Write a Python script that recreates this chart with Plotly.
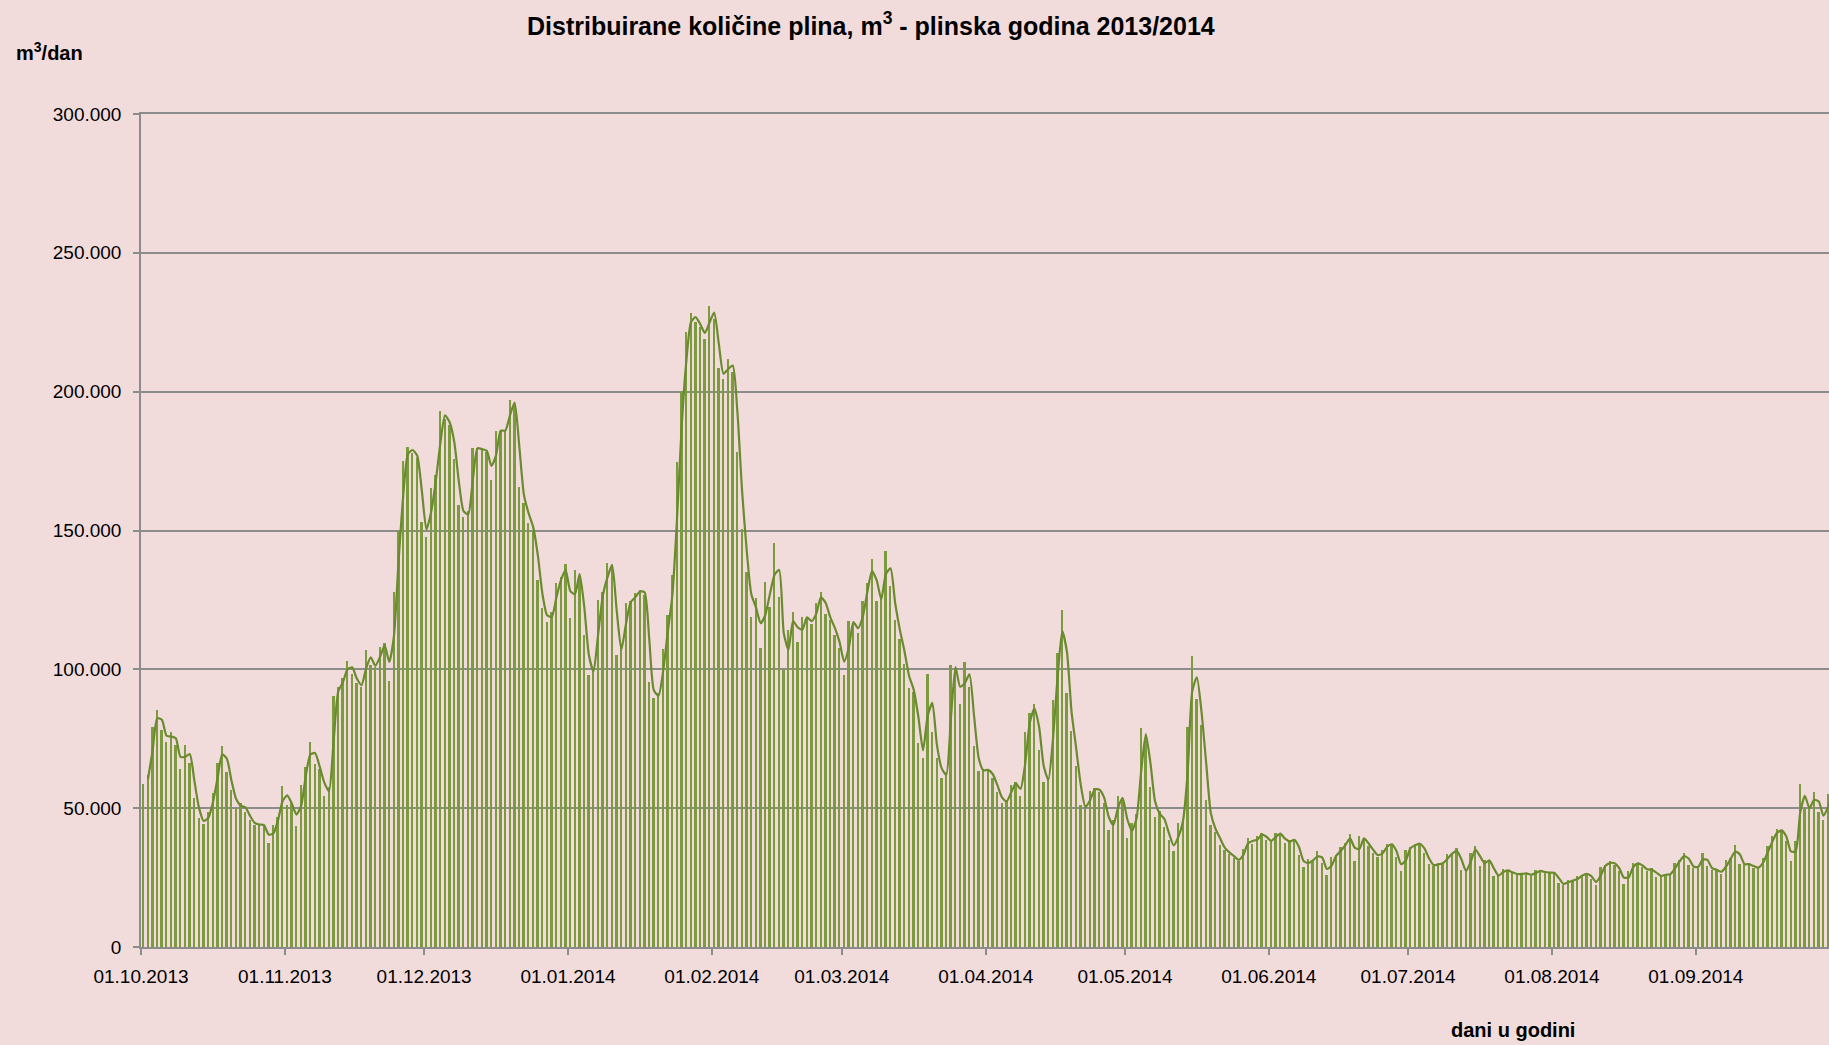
import pandas as pd
import plotly.graph_objects as go

# Daily distributed gas quantities (thousand m3/day), gas year 01.10.2013 - 30.09.2014
oct_2013 = [58.8, 62, 79.4, 85.4, 78.2, 74, 77.6, 72.8, 64.2, 72.8, 66.2, 53.6, 46.6, 44.2, 48.8, 55.4,
            66.4, 72.4, 63.2, 56.6, 50, 51.8, 48.8, 45.6, 43.8, 44.4, 43.4, 37.6, 44, 47, 58]
nov_2013 = [51.2, 52, 43.4, 58.3, 64.8, 73.8, 65.9, 64, 54.4, 57.8, 90.5, 93.6, 97, 103, 98.4,
            95, 93.6, 107, 101.6, 101, 107.9, 109.4, 95.9, 128, 150, 175, 180, 178, 176, 153]
dec_2013 = [147.8, 165.2, 170, 192.9, 190, 188, 175.7, 159.2, 154.7, 157, 179.6, 179.6, 179, 178.4,
            168.2, 185.9, 186, 186, 197, 195.2, 165.8, 160, 152.6, 150, 132.2, 122, 117, 120.8, 131,
            133.4, 138]
jan_2014 = [118.4, 135.8, 132.8, 112.4, 98, 100.4, 125, 128, 138.2, 137, 105.2, 109, 123.8, 124.5,
            127.4, 128.7, 126.8, 95.3, 89.6, 91.4, 107.3, 119.6, 134, 174.8, 200.4, 221.6, 228.5,
            225.2, 223.4, 218.9, 230.9]
feb_2014 = [226, 208.4, 204.5, 211.8, 207, 178.4, 150.7, 135.1, 119, 125.6, 107.6, 131.5, 122.6,
            145.4, 126.2, 99.8, 114.2, 120.5, 109.7, 119, 118.4, 116.3, 123.8, 128, 120, 117.6, 112.2,
            107.6]
mar_2014 = [98, 117.4, 116.6, 113, 124.7, 131, 139.7, 124.5, 126, 142.7, 130, 117.6, 111, 102, 93.2,
            92, 73.6, 68, 98.4, 77.4, 68, 60.8, 63, 101.6, 100, 87.5, 102.6, 93.8, 72.5, 63.5, 63.8]
apr_2014 = [63.8, 60.8, 56, 51.8, 53, 58.4, 59.4, 54.4, 77.3, 84.2, 87.6, 71, 59.4, 61, 88.8, 106,
            121.4, 91.4, 77.9, 65.2, 51.2, 49.6, 56.2, 57.3, 56, 51.8, 42, 45.8, 54.4, 53]
may_2014 = [39.2, 44.6, 47.9, 78.8, 74.6, 57.8, 47, 49, 43.2, 38.6, 34.6, 44.6, 46, 79.2, 104.9, 89.4,
            80, 52.8, 43.8, 41.5, 36.8, 34.8, 33.4, 32, 30.8, 35.4, 39.2, 37.2, 40, 41, 38.4]
jun_2014 = [38, 41.2, 40.4, 37.6, 38.4, 38.8, 33.2, 28.8, 31.6, 30.8, 34.4, 30.2, 26, 32.4, 33.2, 36,
            37.4, 40.8, 30.8, 39.8, 38.4, 36.2, 33.8, 32.4, 35, 37.2, 36.8, 32.4, 27.2, 35]
jul_2014 = [36, 37.2, 37.2, 34, 30, 29, 30.4, 30, 33.6, 33.6, 35.6, 27.6, 27.2, 34, 36.2, 29.2, 31.2,
            31.2, 25.4, 26, 28, 27.2, 26.6, 26, 26.6, 26.4, 25.6, 27.6, 27.2, 26.8, 26.8]
aug_2014 = [26.6, 23, 22.4, 24.2, 23.6, 25.4, 26, 26.6, 24.4, 22.4, 28.8, 29.6, 30.8, 29.6, 27.2, 22.8,
            27.2, 30.2, 30, 28.8, 27.2, 28.4, 25.2, 26, 26, 26.4, 30.2, 31.4, 34, 29.6, 28.4]
sep_2014 = [29.2, 33.8, 29, 27.8, 27.8, 26.4, 31.4, 32, 36.8, 29.9, 29.8, 29.9, 28.4, 28.8, 32, 36.2,
            39.8, 42.4, 41.6, 38, 30.8, 38, 58.8, 50, 50, 56, 48.8, 45.8, 55, 55]

months = [oct_2013, nov_2013, dec_2013, jan_2014, feb_2014, mar_2014,
          apr_2014, may_2014, jun_2014, jul_2014, aug_2014, sep_2014]
values_k = [v for m in months for v in m]
values = [v * 1000 for v in values_k]

days = pd.date_range("2013-10-01", "2014-09-30", freq="D")
centers = days + pd.Timedelta(hours=12)

# 2-period moving average trendline (as in the source spreadsheet)
s = pd.Series(values)
ma = s.rolling(2).mean()

month_starts = pd.date_range("2013-10-01", "2014-09-01", freq="MS")
x_tick_labels = [d.strftime("%d.%m.%Y") for d in month_starts]
y_ticks = [0, 50000, 100000, 150000, 200000, 250000, 300000]
y_tick_labels = ["0", "50.000", "100.000", "150.000", "200.000", "250.000", "300.000"]

FONT = "Liberation Sans, Arial, sans-serif"
BG = "#F2DCDB"
GRID = "#8C8C8C"

fig = go.Figure()
fig.add_trace(go.Bar(
    x=centers, y=values,
    width=0.4 * 86400000,
    marker=dict(color="#7B9B3E", line=dict(width=0)),
    showlegend=False, hoverinfo="x+y",
))
fig.add_trace(go.Scatter(
    x=centers[1:], y=ma[1:],
    mode="lines",
    line=dict(color="#6A8A2E", width=2.2, shape="spline", smoothing=0.6),
    showlegend=False,
))

x0 = pd.Timestamp("2013-10-01")
x1 = pd.Timestamp("2013-10-01") + pd.Timedelta(days=363.7)

fig.update_layout(
    width=1829, height=1045,
    margin=dict(l=141, r=0, t=114, b=98),
    paper_bgcolor=BG, plot_bgcolor=BG,
    font=dict(family=FONT, size=19, color="#000000"),
    bargap=0,
    xaxis=dict(
        type="date", range=[x0, x1],
        tickvals=list(month_starts), ticktext=x_tick_labels,
        showgrid=False, showline=True, linecolor=GRID, linewidth=1.5, mirror=True,
        ticks="outside", ticklen=6, tickcolor=GRID, tickwidth=1.5,
        ticklabelstandoff=5,
        tickfont=dict(family=FONT, size=19),
        zeroline=False,
    ),
    yaxis=dict(
        range=[0, 300000],
        tickvals=y_ticks, ticktext=y_tick_labels,
        showgrid=True, gridcolor=GRID, gridwidth=1.5,
        showline=True, linecolor=GRID, linewidth=1.5,
        ticks="outside", ticklen=6, tickcolor=GRID, tickwidth=1.5,
        ticklabelstandoff=8,
        tickfont=dict(family=FONT, size=19),
        zeroline=False,
    ),
    annotations=[
        dict(text="<b>Distribuirane količine plina, m<sup>3</sup> - plinska godina 2013/2014</b>",
             xref="paper", yref="paper", x=0.4325, y=1.108, xanchor="center", yanchor="middle",
             showarrow=False, font=dict(family=FONT, size=25)),
        dict(text="<b>m<sup>3</sup>/dan</b>",
             xref="paper", yref="paper", x=-0.0752, y=1.0756, xanchor="left", yanchor="middle",
             showarrow=False, font=dict(family=FONT, size=20)),
        dict(text="<b>dani u godini</b>",
             xref="paper", yref="paper", x=0.8128, y=-0.0996, xanchor="center", yanchor="middle",
             showarrow=False, font=dict(family=FONT, size=20)),
    ],
)

fig.write_html(
    "out.html",
    config={"displayModeBar": False},
    post_script="document.body.style.margin='0px';document.body.style.overflow='hidden';",
)
